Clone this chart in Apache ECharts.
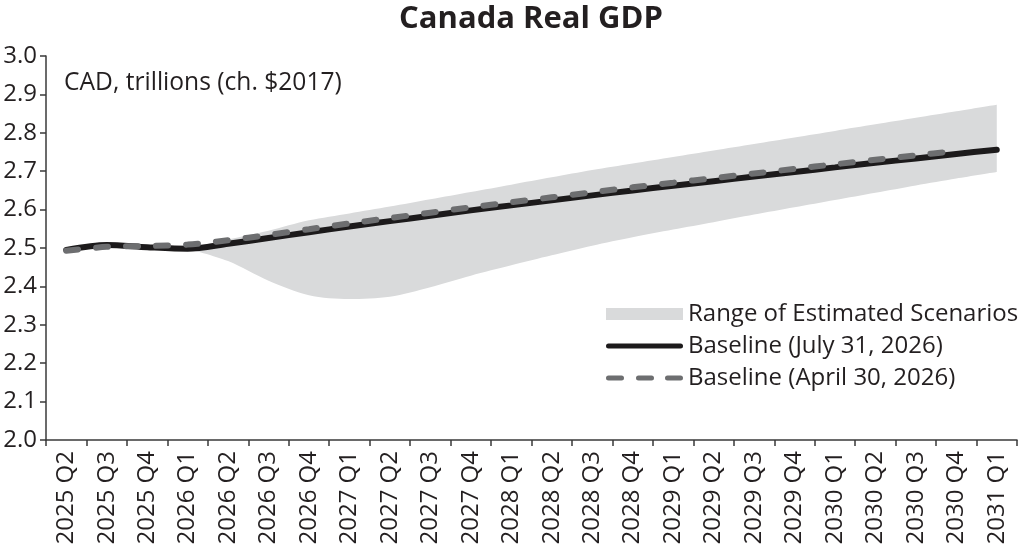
<!DOCTYPE html>
<html>
<head>
<meta charset="utf-8">
<script src="https://cdn.jsdelivr.net/npm/echarts@6/dist/echarts.min.js"></script>
<style>
  html, body { margin: 0; padding: 0; background: #fff; }
  #chart { width: 1018px; height: 551px; }
</style>
</head>
<body>
<div id="chart"></div>
<script>
// quarters on the x axis
const quarters = [
    '2025 Q2', '2025 Q3', '2025 Q4', '2026 Q1', '2026 Q2', '2026 Q3', '2026 Q4',
    '2027 Q1', '2027 Q2', '2027 Q3', '2027 Q4', '2028 Q1', '2028 Q2', '2028 Q3',
    '2028 Q4', '2029 Q1', '2029 Q2', '2029 Q3', '2029 Q4', '2030 Q1', '2030 Q2',
    '2030 Q3', '2030 Q4', '2031 Q1'
];

// Baseline (July 31, 2026)
const baselineJuly = [
    2.495, 2.508, 2.502, 2.498, 2.511, 2.526, 2.541, 2.556, 2.570, 2.584, 2.598, 2.611,
    2.624, 2.637, 2.650, 2.662, 2.674, 2.686, 2.698, 2.710, 2.722, 2.733, 2.745, 2.756
];

// Baseline (April 30, 2026)
const baselineApril = [
    2.493, 2.503, 2.505, 2.509, 2.520, 2.534, 2.549, 2.564, 2.578, 2.592, 2.606, 2.619,
    2.632, 2.645, 2.658, 2.670, 2.682, 2.694, 2.706, 2.718, 2.730, 2.741, 2.753, null
];

// range of estimated scenarios
const rangeLow = [
    null, null, null, 2.498, 2.466, 2.415, 2.377, 2.367, 2.373, 2.398, 2.428, 2.455,
    2.481, 2.506, 2.528, 2.548, 2.567, 2.587, 2.606, 2.625, 2.644, 2.663, 2.681, 2.698
];
const rangeHigh = [
    null, null, null, 2.498, 2.522, 2.545, 2.572, 2.590, 2.608, 2.627, 2.646, 2.665,
    2.684, 2.703, 2.720, 2.737, 2.754, 2.771, 2.788, 2.805, 2.822, 2.839, 2.856, 2.873
];

const yTicks = ['2.0', '2.1', '2.2', '2.3', '2.4', '2.5', '2.6', '2.7', '2.8', '2.9', '3.0'];

const FONT = '"Open Sans", sans-serif';
const TEXT = '#231f20';

// legend glyphs: one thick rounded stroke, and three rounded dashes
const SOLID_ICON = 'path://M2.5,0 H74.5 A2.5,2.5 0 0 1 74.5,5 H2.5 A2.5,2.5 0 0 1 2.5,0 Z';
const DASH_ICON = 'path://M2.5,0 H15.5 A2.5,2.5 0 0 1 15.5,5 H2.5 A2.5,2.5 0 0 1 2.5,0 Z ' +
    'M32.5,0 H45.5 A2.5,2.5 0 0 1 45.5,5 H32.5 A2.5,2.5 0 0 1 32.5,0 Z ' +
    'M61.5,0 H74.5 A2.5,2.5 0 0 1 74.5,5 H61.5 A2.5,2.5 0 0 1 61.5,0 Z';

const chart = echarts.init(document.getElementById('chart'));

const rangeSpan = rangeHigh.map((h, i) => (h == null ? null : +(h - rangeLow[i]).toFixed(3)));

const option = {
    animation: false,
    textStyle: { fontFamily: FONT },
    grid: { left: 46, right: 1, top: 56, bottom: 111, containLabel: false },
    graphic: [
        {
            type: 'text', x: 531, y: 19,
            style: {
                text: 'Canada Real GDP', fontFamily: FONT, fontSize: 31, fontWeight: 'bold',
                fill: TEXT, textAlign: 'center', textVerticalAlign: 'middle'
            }
        },
        {
            type: 'text', x: 64, y: 83,
            style: {
                text: 'CAD, trillions (ch. $2017)', fontFamily: FONT, fontSize: 24.6,
                fill: TEXT, textAlign: 'left', textVerticalAlign: 'middle'
            }
        }
    ],
    legend: {
        orient: 'vertical',
        left: 601,
        top: 297,
        itemWidth: 77,
        itemHeight: 12,
        itemGap: 8,
        selectedMode: false,
        textStyle: { fontFamily: FONT, fontSize: 24, color: TEXT },
        data: [
            { name: 'Range of Estimated Scenarios', icon: 'rect' },
            { name: 'Baseline (July 31, 2026)', icon: SOLID_ICON },
            { name: 'Baseline (April 30, 2026)', icon: DASH_ICON }
        ]
    },
    xAxis: {
        type: 'category',
        data: quarters,
        boundaryGap: true,
        axisLine: { lineStyle: { color: '#3a3a3a', width: 1.5 } },
        axisTick: { show: true, length: 6, lineStyle: { color: '#3a3a3a', width: 1.5 } },
        axisLabel: {
            rotate: 90, interval: 0, margin: 11,
            fontFamily: FONT, fontSize: 24, color: TEXT
        }
    },
    yAxis: {
        type: 'value',
        min: 2.0,
        max: 3.0,
        interval: 0.1,
        axisLine: { show: true, lineStyle: { color: '#3a3a3a', width: 1.5 } },
        axisTick: { show: true, length: 6, lineStyle: { color: '#3a3a3a', width: 1.5 } },
        splitLine: { show: false },
        axisLabel: {
            margin: 9, fontFamily: FONT, fontSize: 24, color: TEXT,
            formatter: v => yTicks[Math.round((v - 2.0) * 10)]
        }
    },
    series: [
        {
            name: 'low',
            type: 'line',
            stack: 'band',
            data: rangeLow,
            symbol: 'none',
            smooth: 0.3,
            lineStyle: { opacity: 0 },
            silent: true
        },
        {
            name: 'Range of Estimated Scenarios',
            type: 'line',
            stack: 'band',
            data: rangeSpan,
            symbol: 'none',
            smooth: 0.3,
            itemStyle: { color: '#d9dadb' },
            lineStyle: { opacity: 0 },
            areaStyle: { color: '#d9dadb', opacity: 1 },
            silent: true
        },
        {
            name: 'Baseline (July 31, 2026)',
            type: 'line',
            data: baselineJuly,
            symbol: 'none',
            smooth: 0.3,
            itemStyle: { color: '#1c1a1b' },
            lineStyle: { color: '#1c1a1b', width: 6, cap: 'round' },
            silent: true
        },
        {
            name: 'Baseline (April 30, 2026)',
            type: 'line',
            data: baselineApril,
            symbol: 'none',
            smooth: 0.3,
            itemStyle: { color: '#6d6e70' },
            lineStyle: { color: '#6d6e70', width: 6, type: [12, 18], cap: 'round' },
            silent: true
        }
    ]
};

chart.setOption(option);
</script>
</body>
</html>
